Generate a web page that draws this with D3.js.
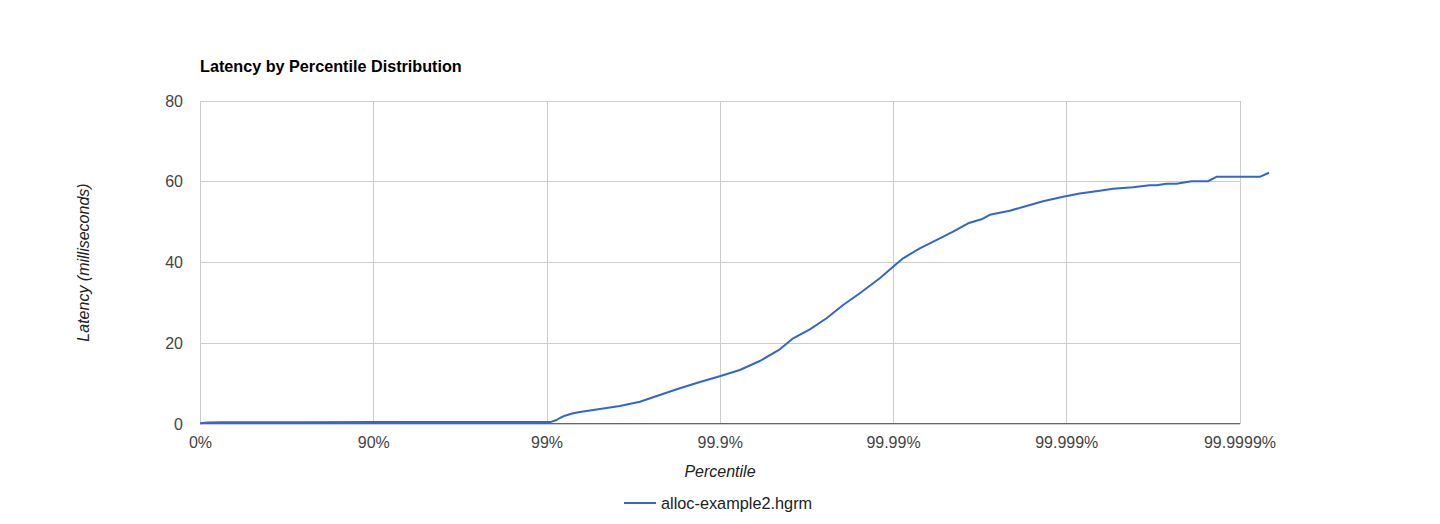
<!DOCTYPE html>
<html>
<head>
<meta charset="utf-8">
<script src="https://cdn.jsdelivr.net/npm/d3@7"></script>
<style>
  html, body { margin: 0; padding: 0; background: #fff; }
  svg { display: block; font-family: "Liberation Sans", Arial, sans-serif; }
</style>
</head>
<body>
<svg id="chart" width="1440" height="524"></svg>
<script>
// ---- data ----
const seriesName = "alloc-example2.hgrm";
// percentile (in %) of each point
const percentiles = [
  0, 10, 25, 50, 75, 90, 95, 99, 99.06, 99.1257, 99.1631,
  99.217, 99.2985, 99.358, 99.508, 99.623, 99.711, 99.778, 99.830, 99.870, 99.900,
  99.9234, 99.9413, 99.9550, 99.9623, 99.9698, 99.97581, 99.98060, 99.98446,
  99.98808, 99.99001, 99.991257, 99.992998, 99.994630, 99.995502, 99.996314,
  99.996915, 99.997237, 99.997882, 99.998303, 99.998639, 99.998957,
  99.9991642, 99.9993592, 99.9994630, 99.9995884, 99.9996702, 99.9996983,
  99.9997359, 99.9997688, 99.9998106, 99.9998480, 99.9998641, 99.99992357,
  99.99993243
];
// latency in milliseconds at each percentile
const latencies = [
  0.05, 0.25, 0.3, 0.33, 0.34, 0.35, 0.36, 0.37, 0.4, 0.87, 1.36,
  1.93, 2.53, 2.85, 3.59, 4.33, 5.4, 7.06, 8.72, 10.28, 11.7,
  13.25, 15.48, 18.38, 21.1, 23.33, 26.06, 29.35, 32.25,
  35.96, 38.84, 40.92, 43.4, 45.87, 47.5, 49.59,
  50.58, 51.7, 52.7, 53.87, 55.03, 56.17,
  56.95, 57.66, 58.15, 58.5, 59.0, 59.0,
  59.4, 59.4, 60.0, 60.0, 61.1, 61.1,
  62.1
];
const xTickValues = [1, 10, 100, 1000, 10000, 100000, 1000000];
const xTickLabels = ["0%", "90%", "99%", "99.9%", "99.99%", "99.999%", "99.9999%"];
const yTickValues = [0, 20, 40, 60, 80];
const titleText = "Latency by Percentile Distribution";
const xTitle = "Percentile";
const yTitle = "Latency (milliseconds)";

// ---- drawing ----
const svg = d3.select("#chart");
const pLeft = 200, pRight = 1240, pTop = 101, pBottom = 424;

const x = d3.scaleLog().domain([1, 1e6]).range([pLeft, pRight - 0.5]);
const y = d3.scaleLinear().domain([0, 80]).range([pBottom - 0.5, pTop - 0.5]);

const data = percentiles.map((p, i) => ({ inv: 1 / (1 - p / 100), v: latencies[i] }));

// horizontal gridlines
svg.append("g")
  .attr("transform", `translate(${pLeft},0)`)
  .call(d3.axisLeft(y).tickValues(yTickValues).tickSize(-(pRight - pLeft)).tickFormat(""))
  .call(g => g.select(".domain").remove())
  .call(g => g.selectAll("line").attr("stroke", "#cccccc").attr("shape-rendering", "crispEdges"));

// vertical gridlines
svg.append("g")
  .attr("transform", `translate(0,${pBottom})`)
  .call(d3.axisBottom(x).tickValues(xTickValues).tickSize(-(pBottom - pTop)).tickFormat(""))
  .call(g => g.select(".domain").remove())
  .call(g => g.selectAll("line").attr("stroke", "#cccccc").attr("shape-rendering", "crispEdges"));

// baseline
svg.append("line")
  .attr("x1", pLeft).attr("x2", pRight)
  .attr("y1", y(0)).attr("y2", y(0))
  .attr("stroke", "#666").attr("stroke-width", 1)
  .attr("shape-rendering", "crispEdges");

// y tick labels
svg.append("g")
  .attr("transform", `translate(${pLeft},0)`)
  .call(d3.axisLeft(y).tickValues(yTickValues).tickSize(0).tickPadding(17).tickFormat(d3.format("d")))
  .call(g => g.select(".domain").remove())
  .call(g => g.selectAll("text")
    .attr("font-family", "'Liberation Sans', Arial, sans-serif")
    .attr("font-size", 16).attr("fill", "#444").attr("dy", "0.35em"));

// x tick labels
svg.append("g")
  .attr("transform", `translate(0,${pBottom})`)
  .call(d3.axisBottom(x).tickValues(xTickValues).tickSize(0).tickPadding(13)
    .tickFormat((d, i) => xTickLabels[i]))
  .call(g => g.select(".domain").remove())
  .call(g => g.selectAll("text")
    .attr("font-family", "'Liberation Sans', Arial, sans-serif")
    .attr("font-size", 16).attr("fill", "#444"));

// line
const line = d3.line().x(d => x(d.inv)).y(d => y(d.v)).curve(d3.curveLinear);
svg.append("path")
  .datum(data)
  .attr("d", line)
  .attr("fill", "none")
  .attr("stroke", "#3366cc")
  .attr("stroke-width", 2)
  .attr("stroke-linejoin", "round");

// title
svg.append("text")
  .attr("x", 200).attr("y", 72)
  .attr("font-size", 16.2).attr("font-weight", "bold").attr("fill", "#000")
  .text(titleText);

// axis titles
svg.append("text")
  .attr("x", (pLeft + pRight) / 2).attr("y", 477)
  .attr("text-anchor", "middle")
  .attr("font-size", 16).attr("font-style", "italic").attr("fill", "#222")
  .text(xTitle);

svg.append("text")
  .attr("transform", `translate(89,${(pTop + pBottom) / 2}) rotate(-90)`)
  .attr("text-anchor", "middle")
  .attr("font-size", 16).attr("font-style", "italic").attr("fill", "#222")
  .text(yTitle);

// legend
const lg = svg.append("g").attr("transform", "translate(624,503)");
lg.append("line").attr("x1", 0).attr("x2", 32).attr("y1", 0).attr("y2", 0)
  .attr("stroke", "#3366cc").attr("stroke-width", 2);
lg.append("text").attr("x", 37).attr("y", 0).attr("dy", "0.35em")
  .attr("font-size", 16.3).attr("fill", "#222")
  .text(seriesName);
</script>
</body>
</html>
